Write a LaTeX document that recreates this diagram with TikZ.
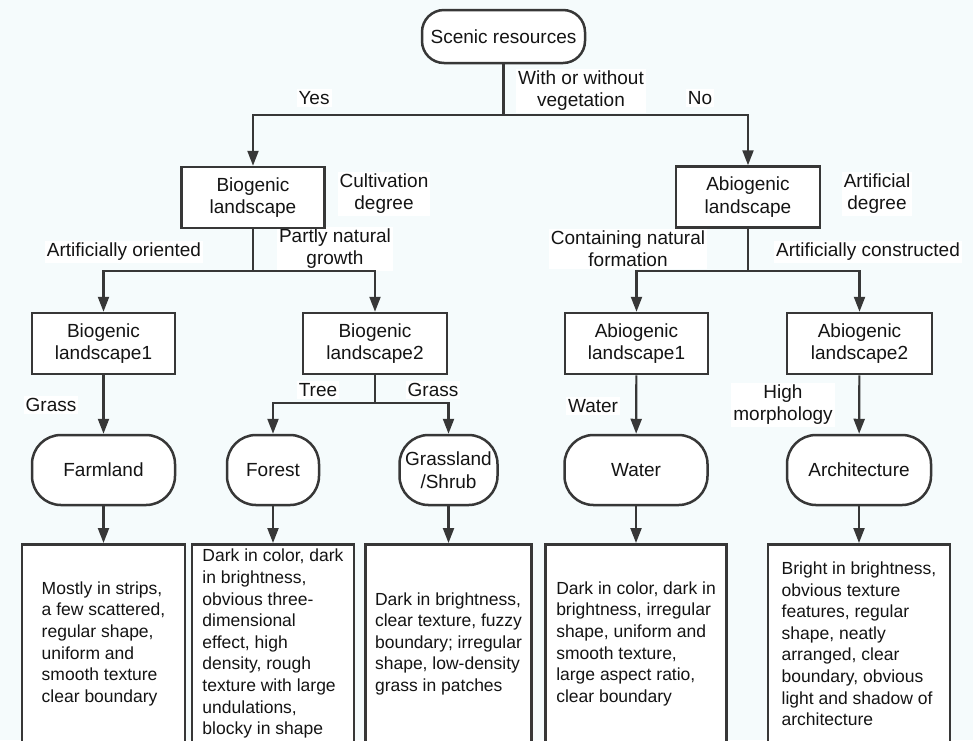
\documentclass[tikz,border=0pt]{standalone}
\usepackage{fontspec}
\setmainfont{Liberation Sans}
\usetikzlibrary{arrows.meta, positioning}
\definecolor{bgcol}{RGB}{245,251,252}
\definecolor{linecol}{RGB}{55,55,55}
\definecolor{txtcol}{RGB}{20,20,20}

\tikzset{
	box/.style={draw=linecol, line width=2.5pt, fill=white, text=txtcol, align=center, inner sep=2pt, minimum width=143pt, minimum height=61pt, font=\fontsize{19}{22.5}\selectfont},
	term/.style={box, rounded corners=29pt, minimum height=70pt},
	descbox/.style={draw=linecol, line width=2.5pt, fill=white, text=txtcol, align=left, anchor=north, inner sep=3pt, minimum height=199pt, font=\fontsize{17.5}{21.6}\selectfont},
	lbl/.style={fill=white, text=txtcol, align=center, inner sep=2pt, font=\fontsize{19}{22}\selectfont},
	link/.style={draw=linecol, line width=2.2pt},
	arr/.style={link, -{Triangle[length=15pt,width=11pt]}},
}

\begin{document}
\begin{tikzpicture}[x=1pt, y=-1pt]
		\useasboundingbox (0,0) rectangle (973,740);
		\clip (0,0) rectangle (973,740);
		\fill[bgcol] (0,0) rectangle (973,740);
		
		% labels on the branches
		\node[lbl] (lveg) at (581,91) {With or without\\vegetation};
		\node[lbl] (lyes) at (314,98) {Yes};
		\node[lbl] (lno) at (700,98) {No};
		\node[lbl] (lcult) at (384,194) {Cultivation\\degree};
		\node[lbl] (lart) at (877,194) {Artificial\\degree};
		\node[lbl] (lorient) at (124,252) {Artificially oriented};
		\node[lbl] (lpartly) at (335,249) {Partly natural\\growth};
		\node[lbl] (lcontain) at (628,249) {Containing natural\\formation};
		\node[lbl] (lconstr) at (868,252) {Artificially constructed};
		\node[lbl] (lgrass) at (51,405) {Grass};
		\node[lbl] (ltree) at (318,390) {Tree};
		\node[lbl] (lgrasstwo) at (433,390) {Grass};
		\node[lbl] (lwater) at (593,406) {Water};
		\node[lbl] (lhigh) at (783,405) {High\\morphology};
		
		% boxes
		\node[term, minimum width=163pt, minimum height=53pt, rounded corners=22pt] (root) at (503.5,36.5) {Scenic resources};
		\node[box] (bio) at (253,197.5) {Biogenic\\landscape};
		\node[box, minimum width=144pt] (abio) at (748,197) {Abiogenic\\landscape};
		\node[box] (bioone) at (103.5,343.5) {Biogenic\\landscape1};
		\node[box, minimum width=144pt] (biotwo) at (375,343.5) {Biogenic\\landscape2};
		\node[box] (abioone) at (636.5,343.5) {Abiogenic\\landscape1};
		\node[box, minimum width=145pt] (abiotwo) at (859.5,343.5) {Abiogenic\\landscape2};
		
		\node[term] (farm) at (103.5,470) {Farmland};
		\node[term, minimum width=92pt] (forest) at (273,470) {Forest};
		\node[term, minimum width=98pt] (grass) at (448.5,470) {Grassland\\/Shrub};
		\node[term] (water) at (636,470) {Water};
		\node[term, minimum width=144pt] (arch) at (859,470) {Architecture};
		
		\node[descbox, minimum width=163pt] (dfarm) at (103.5,543) {Mostly in strips,\\a few scattered,\\regular shape,\\uniform and\\smooth texture\\clear boundary};
		\node[descbox, minimum width=162pt] (dforest) at (273,543) {Dark in color, dark\\in brightness,\\obvious three-\\dimensional\\effect, high\\density, rough\\texture with large\\undulations,\\blocky in shape};
		\node[descbox, minimum width=166pt] (dgrass) at (448.5,543) {Dark in brightness,\\clear texture, fuzzy\\boundary; irregular\\shape, low-density\\grass in patches};
		\node[descbox, minimum width=181pt] (dwater) at (636,543) {Dark in color, dark in\\brightness, irregular\\shape, uniform and\\smooth texture,\\large aspect ratio,\\clear boundary};
		\node[descbox, minimum width=182pt] (darch) at (859,543) {Bright in brightness,\\obvious texture\\features, regular\\shape, neatly\\arranged, clear\\boundary, obvious\\light and shadow of\\architecture};
		
		% connectors
		\coordinate (jroot) at (503.5,115);
		\coordinate (jbio) at (253,271);
		\coordinate (jabio) at (748,271);
		\coordinate (jbiotwo) at (375,403);
		
		\draw[link] (root) -- (jroot);
		\draw[arr] (jroot) -| (bio);
		\draw[arr] (jroot) -| (abio);
		
		\draw[link] (bio) -- (jbio);
		\draw[arr] (jbio) -| (bioone);
		\draw[arr] (jbio) -| (biotwo);
		
		\draw[link] (abio) -- (jabio);
		\draw[arr] (jabio) -| (abioone);
		\draw[arr] (jabio) -| (abiotwo);
		
		\draw[arr] (bioone) -- (farm);
		\draw[link] (biotwo) -- (jbiotwo);
		\draw[arr] (jbiotwo) -| (forest);
		\draw[arr] (jbiotwo) -| (grass);
		\draw[arr] (abioone) -- (water);
		\draw[arr] (abiotwo) -- (arch);
		
		\draw[arr] (farm) -- (dfarm);
		\draw[arr] (forest) -- (dforest);
		\draw[arr] (grass) -- (dgrass);
		\draw[arr] (water) -- (dwater);
		\draw[arr] (arch) -- (darch);
\end{tikzpicture}
\end{document}
